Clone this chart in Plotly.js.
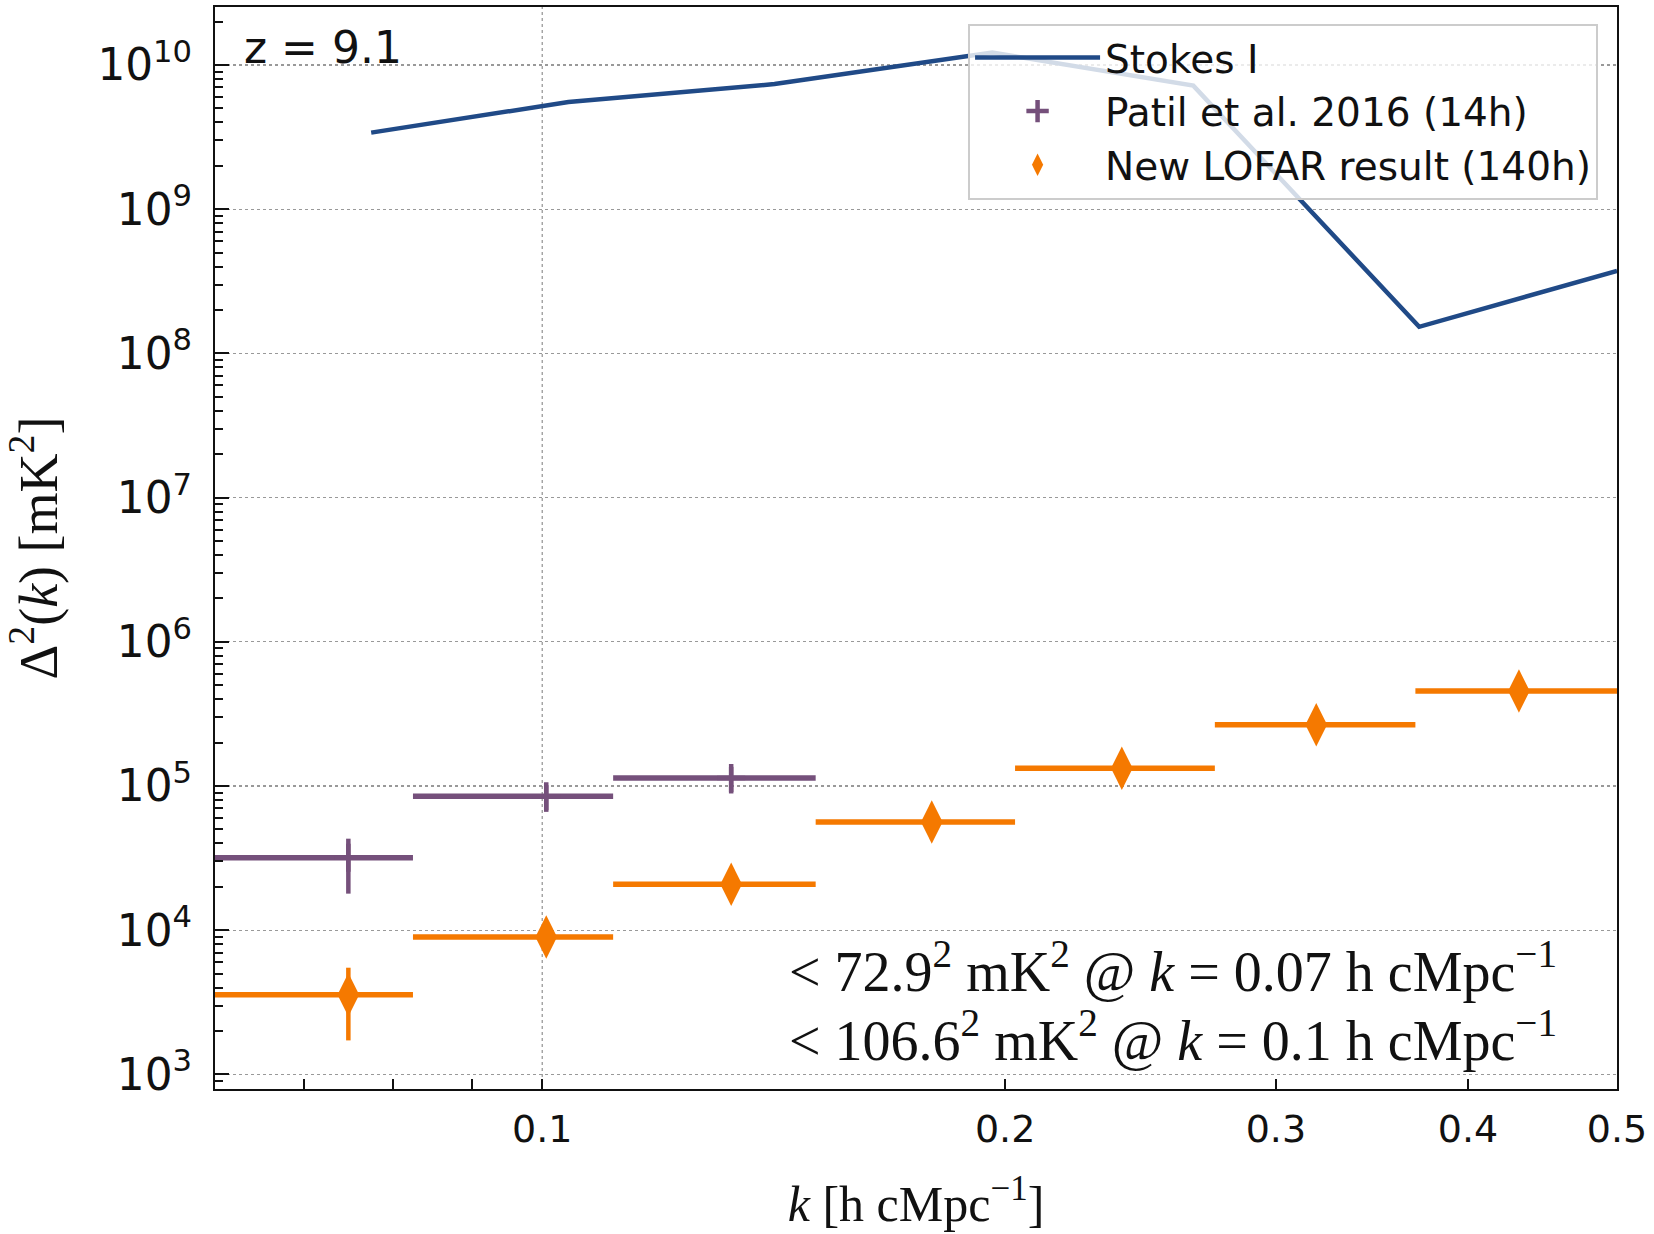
<!DOCTYPE html>
<html>
<head>
<meta charset="utf-8">
<script src="https://cdn.plot.ly/plotly-3.0.1.min.js"></script>
<style>html,body{margin:0;padding:0;background:#fff;}</style>
</head>
<body>
<div id="chart" style="width:1654px;height:1234px;"></div>
<script>
// ---- data ----
const binCentres = [0.0748, 0.1006, 0.1327, 0.1792, 0.2382, 0.3187, 0.4317];
const binLow     = [0.0605, 0.0824, 0.1112, 0.1506, 0.2030, 0.2738, 0.3697];
const binHigh    = [0.0824, 0.1112, 0.1506, 0.2030, 0.2738, 0.3697, 0.5050];

const patilValue = [31800, 84900, 113900];
const patilUpper = [43150, 101400, 135900];
const patilLower = [17940, 66200, 88800];

const lofarValue = [3573, 8980, 20860, 56360, 133000, 266000, 456000];
const lofarUpper = [5497, 8980, 20860, 56360, 133000, 266000, 456000];
const lofarLower = [1722, 8980, 20860, 56360, 133000, 266000, 456000];

const stokesK     = [0.0774, 0.1040, 0.1416, 0.1962, 0.2651, 0.3718, 0.5];
const stokesValue = [3.40e9, 5.54e9, 7.38e9, 1.22e10, 7.20e9, 1.53e8, 3.74e8];

const xTickVals = [0.07, 0.08, 0.09, 0.1, 0.2, 0.3, 0.4, 0.5];
const xTickText = ['', '', '', '0.1', '0.2', '0.3', '0.4', '0.5'];

const upperLimitLines = [
  '&lt; 72.9<sup>2</sup> mK<sup>2</sup> @ <i>k</i> = 0.07 h cMpc<sup>\u22121</sup>',
  '&lt; 106.6<sup>2</sup> mK<sup>2</sup> @ <i>k</i> = 0.1 h cMpc<sup>\u22121</sup>'
];

// ---- colours ----
const cStokes = '#204a87';
const cPatil = '#75507b';
const cLofar = '#f57900';

const nP = patilValue.length;
const traces = [
  {
    x: stokesK, y: stokesValue, mode: 'lines', name: 'Stokes I',
    line: {color: cStokes, width: 4.5}
  },
  {
    x: binCentres.slice(0, nP), y: patilValue, mode: 'markers', name: 'Patil et al. 2016 (14h)',
    marker: {symbol: 'cross-thin', size: 20, color: cPatil, line: {color: cPatil, width: 4.5}},
    error_x: {type: 'data', symmetric: false,
      array: binHigh.slice(0, nP).map((h, i) => h - binCentres[i]),
      arrayminus: binLow.slice(0, nP).map((l, i) => binCentres[i] - l),
      color: cPatil, thickness: 5.5, width: 0},
    error_y: {type: 'data', symmetric: false,
      array: patilUpper.map((u, i) => u - patilValue[i]),
      arrayminus: patilLower.map((l, i) => patilValue[i] - l),
      color: cPatil, thickness: 4.5, width: 0}
  },
  {
    x: binCentres, y: lofarValue, mode: 'markers', name: 'New LOFAR result (140h)',
    marker: {symbol: 'diamond-tall', size: 31, color: cLofar, line: {width: 0}},
    error_x: {type: 'data', symmetric: false,
      array: binHigh.map((h, i) => h - binCentres[i]),
      arrayminus: binLow.map((l, i) => binCentres[i] - l),
      color: cLofar, thickness: 5.5, width: 0},
    error_y: {type: 'data', symmetric: false,
      array: lofarUpper.map((u, i) => u - lofarValue[i]),
      arrayminus: lofarLower.map((l, i) => lofarValue[i] - l),
      color: cLofar, thickness: 4.5, width: 0}
  }
];

const sansFont = 'DejaVu Sans, sans-serif';
const serifFont = 'Liberation Serif, Times New Roman, serif';

const layout = {
  width: 1654, height: 1234,
  margin: {l: 215, r: 37, t: 7, b: 145},
  paper_bgcolor: '#fff', plot_bgcolor: '#fff',
  showlegend: true,
  font: {family: sansFont, color: '#111'},
  xaxis: {
    type: 'log',
    range: [Math.log10(0.06126), Math.log10(0.5)],
    tickmode: 'array', tickvals: xTickVals, ticktext: xTickText,
    ticks: 'inside', ticklen: 10, tickwidth: 2, tickcolor: '#111',
    showline: true, linewidth: 2, linecolor: '#111', mirror: true,
    showgrid: false, zeroline: false,
    tickfont: {family: sansFont, size: 38, color: '#111'},
    ticklabelstandoff: 5,
    title: {text: '<i>k</i> [h cMpc<sup>\u22121</sup>]', font: {family: serifFont, size: 50, color: '#111'}, standoff: 36}
  },
  yaxis: {
    type: 'log',
    range: [2.899, 10.4026],
    dtick: 1, exponentformat: 'power', showexponent: 'all',
    ticks: 'inside', ticklen: 14, tickwidth: 2, tickcolor: '#111',
    minor: {dtick: 'D1', ticks: 'inside', ticklen: 8, tickwidth: 2, tickcolor: '#111', showgrid: false},
    showline: true, linewidth: 2, linecolor: '#111', mirror: true,
    showgrid: true, gridcolor: '#999', griddash: 'dot', gridwidth: 1.3,
    zeroline: false,
    tickfont: {family: sansFont, size: 35, color: '#111'},
    ticklabelstandoff: 14,
    title: {text: '\u0394<sup>2</sup>(<i>k</i>) [mK<sup>2</sup>]', font: {family: serifFont, size: 54, color: '#111'}, standoff: 26}
  },
  legend: {
    x: 0.9865, y: 0.9847, xanchor: 'right', yanchor: 'top',
    bgcolor: 'rgba(255,255,255,0.8)', bordercolor: '#cccccc', borderwidth: 2,
    font: {family: sansFont, size: 39, color: '#111'},
    itemwidth: 125, tracegroupgap: 0
  },
  shapes: [
    {type: 'line', xref: 'x', yref: 'paper', x0: 0.1, x1: 0.1, y0: 0, y1: 1,
     line: {color: '#999', width: 1.3, dash: 'dot'}, layer: 'below'}
  ],
  annotations: [
    {xref: 'paper', yref: 'paper', x: 0.0193, y: 0.9625, xanchor: 'left', yanchor: 'middle',
     text: 'z = 9.1', showarrow: false, font: {family: sansFont, size: 44, color: '#111'}},
    {xref: 'paper', yref: 'paper', x: 0.9586, y: 0.1119, xanchor: 'right', yanchor: 'middle',
     text: upperLimitLines[0], showarrow: false, font: {family: serifFont, size: 56, color: '#111'}},
    {xref: 'paper', yref: 'paper', x: 0.9586, y: 0.0481, xanchor: 'right', yanchor: 'middle',
     text: upperLimitLines[1], showarrow: false, font: {family: serifFont, size: 56, color: '#111'}}
  ]
};

Plotly.newPlot('chart', traces, layout, {displayModeBar: false, staticPlot: true});
</script>
</body>
</html>
